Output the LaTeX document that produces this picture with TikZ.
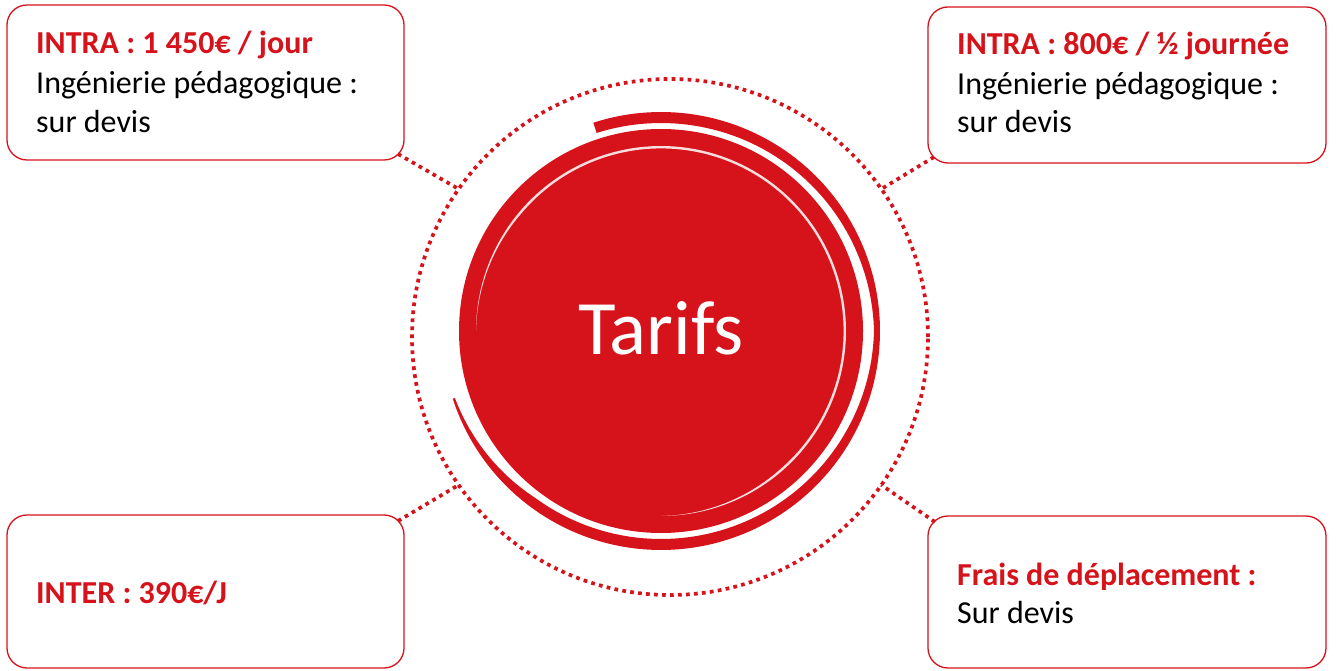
\documentclass[tikz,border=0pt]{standalone}
\usepackage{fontspec}
\setmainfont{Carlito}
\usetikzlibrary{calc}
\definecolor{tred}{RGB}{214,18,26}
\definecolor{pale}{RGB}{250,222,222}
\begin{document}
\begin{tikzpicture}[x=1pt,y=1pt,
  box/.style={draw=tred, line width=1.3pt, rounded corners=20pt, inner sep=0pt, outer sep=0pt},
  dotline/.style={draw=tred, line width=3.7pt, dash pattern=on 3.7pt off 4.3pt},
  hd/.style={anchor=base west, inner sep=0pt, text=tred, font=\fontsize{32}{39.5}\selectfont\bfseries},
  tx/.style={anchor=base west, inner sep=0pt, text=black, font=\fontsize{32}{39.5}\selectfont},
  declare function={wout(\t)=(6+5*abs(sin(\t)))*min(1,0.3+(\t+162)/50);
                    win(\t)=2.4*min(1,(180-\t)/40)*min(1,(\t+90)/40);}]
\useasboundingbox (0,0) rectangle (1336,670);

% dotted ring
\node[circle, dotline, minimum size=516pt, inner sep=0pt, outer sep=0pt] (ring) at (670,333) {};

% central disc
\node[circle, fill=tred, minimum size=404pt, inner sep=0pt, text=white,
      font=\fontsize{77}{82}\selectfont, text height=48pt, text depth=0pt] (core) at (661,339) {Tarifs};

% outer swoosh
\fill[tred] plot[domain=108:-162, samples=150] ({661+219*cos(\x)},{339+219*sin(\x)})
  -- plot[domain=-162:108, samples=150] ({661+(219-wout(\x))*cos(\x)},{339+(219-wout(\x))*sin(\x)}) -- cycle;

% inner pale arc
\fill[pale] plot[domain=180:-90, samples=150] ({661+185*cos(\x)},{339+185*sin(\x)})
  -- plot[domain=-90:180, samples=150] ({661+(185-win(\x))*cos(\x)},{339+(185-win(\x))*sin(\x)}) -- cycle;

% boxes
\node[box, minimum width=397pt, minimum height=155pt] (tl) at (205.5,587.5) {};
\node[box, minimum width=398pt, minimum height=156pt] (tr) at (1127,585) {};
\node[box, minimum width=397pt, minimum height=153pt] (bl) at (205.5,78.5) {};
\node[box, minimum width=398pt, minimum height=152pt] (br) at (1127,78) {};

% texts
\node[hd] (tl1) at (36,616) {INTRA : 1 450€ / jour};
\node[tx] (tl2) at (36,576.5) {Ingénierie pédagogique :};
\node[tx] (tl3) at (36,537.5) {sur devis};
\node[hd] (tr1) at (957,615) {INTRA : 800€ / ½ journée};
\node[tx] (tr2) at (957,575) {Ingénierie pédagogique :};
\node[tx] (tr3) at (957,537) {sur devis};
\node[hd] (bl1) at (36,67) {INTER : 390€/J};
\node[hd] (br1) at (957,85) {Frais de déplacement :};
\node[tx] (br2) at (957,47) {Sur devis};

% connectors
\draw[dotline] ($(tl.south east)+(-6,6)$) -- (ring.145);
\draw[dotline] ($(tr.south west)+(6,6)$) -- (ring.35);
\draw[dotline] ($(bl.north east)+(-6,-6)$) -- (ring.215);
\draw[dotline] ($(br.north west)+(7,-6)$) -- (ring.-35);
\end{tikzpicture}
\end{document}
